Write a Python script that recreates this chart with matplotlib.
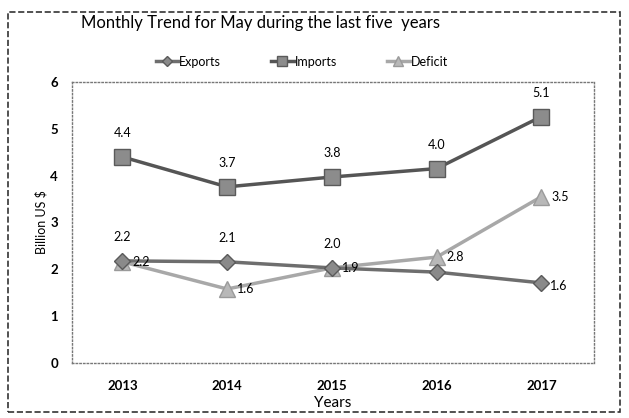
import matplotlib.pyplot as plt
from matplotlib.patches import Rectangle

plt.rcParams['font.family'] = ['Lato', 'DejaVu Sans']

anos = ["2013", "2014", "2015", "2016", "2017"]
exports = [2.18, 2.16, 2.03, 1.94, 1.71]
imports = [4.40, 3.76, 3.97, 4.15, 5.26]
deficit = [2.16, 1.58, 2.03, 2.26, 3.55]

# etiquetas tal como aparecen en la imagen
lab_exports = ["2.2", "2.1", "2.0", "", "1.6"]
lab_imports = ["4.4", "3.7", "3.8", "4.0", "5.1"]
lab_deficit = ["2.2", "1.6", "1.9", "2.8", "3.5"]

fig = plt.figure(figsize=(6.29, 4.18), dpi=100)
ax = fig.add_axes([0.1145, 0.1316, 0.8295, 0.6724])

x = range(len(anos))
ax.plot(x, exports, color="#6e6e6e", lw=2.5, marker="D", ms=8,
        mfc="#8a8a8a", mec="#5a5a5a", label="Exports", zorder=3)
ax.plot(x, imports, color="#555555", lw=2.5, marker="s", ms=11,
        mfc="#8c8c8c", mec="#5a5a5a", label="Imports", zorder=3)
ax.plot(x, deficit, color="#a8a8a8", lw=2.5, marker="^", ms=11,
        mfc="#b8b8b8", mec="#9a9a9a", label="Deficit", zorder=2)

for i in x:
    ax.annotate(lab_imports[i], (i, imports[i]), xytext=(0, 17),
                textcoords="offset points", ha="center", va="center", fontsize=9)
    if lab_exports[i]:
        if i < 3:
            ax.annotate(lab_exports[i], (i, exports[i]), xytext=(0, 17),
                        textcoords="offset points", ha="center", va="center", fontsize=9)
        else:
            ax.annotate(lab_exports[i], (i, exports[i]), xytext=(6, -2),
                        textcoords="offset points", ha="left", va="center", fontsize=9)
    ax.annotate(lab_deficit[i], (i, deficit[i]), xytext=(7, 0),
                textcoords="offset points", ha="left", va="center", fontsize=9)

ax.set_xlim(-0.48, 4.5)
ax.set_ylim(0, 6)
ax.set_xticks(list(x))
ax.set_xticklabels(anos, fontsize=9.5, fontweight="bold")
ax.set_yticks([0, 1, 2, 3, 4, 5, 6])
ax.set_yticklabels(["0", "1", "2", "3", "4", "5", "6"], fontsize=9.5, fontweight="bold")
ax.tick_params(length=0, pad=10)
ax.tick_params(axis="x", pad=12)
for s in ax.spines.values():
    s.set_linestyle(":")
    s.set_color("#777777")
    s.set_linewidth(1)

ax.set_xlabel("Years", fontsize=11, labelpad=3)
ax.set_ylabel("Billion US $", fontsize=9, labelpad=2)

fig.text(0.128, 0.945, "Monthly Trend for May during the last five  years",
         fontsize=12, ha="left", va="center")
fig.legend(loc="center", bbox_to_anchor=(0.48, 0.852), ncol=3, frameon=False,
           fontsize=9, handlelength=1.8, handletextpad=0.1, columnspacing=4.0,
           markerscale=0.65)

fig.patches.append(Rectangle((0.013, 0.015), 0.973, 0.957, transform=fig.transFigure,
                             fill=False, ls="--", lw=1.2, ec="#333333"))

plt.savefig("out.png")
